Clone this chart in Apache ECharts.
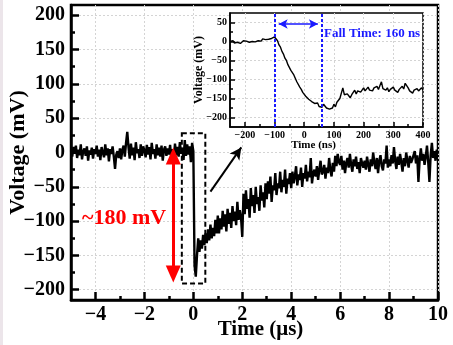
<!DOCTYPE html>
<html><head><meta charset="utf-8">
<script src="https://cdn.jsdelivr.net/npm/echarts@6/dist/echarts.min.js"></script>
<style>html,body{margin:0;padding:0;background:#fff}#c{width:453px;height:345px}</style>
</head><body><div id="c"></div>
<script>
// ---- main trace: sample start / step (µs) and voltages (mV)
const mainStart = -5, mainStep = 0.05;
const mainVolt = [
  3,-6,8,-2,10,-8,4,-4,12,-10,2,6,-5,9,-12,3,-3,7,-9,5,
  -2,10,-6,4,-11,8,0,-7,12,-4,6,-13,5,-2,9,-6,-24,-3,2,-8,
  6,-10,4,10,-6,14,30,8,-9,13,-4,7,-11,15,-1,5,-8,12,-5,9,
  3,-7,11,-3,8,-10,14,-2,5,-9,12,-4,7,-6,10,-12,4,9,-5,6,
  -3,11,-8,5,-10,13,-4,8,-6,15,-2,7,-11,18,-5,12,-3,9,-14,14,
  2,-165,-181,-150,-125,-145,-128,-140,-120,-135,-118,-132,-112,-128,-105,-125,-110,-122,-98,-118,
  -92,-118,-96,-112,-85,-108,-90,-115,-82,-104,-88,-110,-78,-100,-86,-106,-72,-98,-84,-95,
  -123,-60,-90,-55,-82,-68,-95,-52,-78,-62,-88,-50,-75,-65,-85,-48,-70,-58,-80,-45,
  -68,-42,-60,-35,-72,-48,-55,-30,-62,-45,-52,-28,-58,-40,-50,-25,-60,-38,-46,-30,
  -52,-28,-45,-35,-20,-48,-32,-40,-22,-50,-30,-38,-18,-42,-28,-36,-8,-45,-30,-25,
  -35,-20,-40,-25,-12,-32,-28,-18,-38,-22,-30,-8,-26,-35,-15,-28,-5,-20,-2,-14,
  -18,-5,-25,-12,-30,-15,-8,-22,-2,-18,-28,-10,-20,-6,-24,-14,-30,-8,-16,-22,
  -12,-25,-6,-18,-28,-10,-20,0,-15,-24,-8,-30,-12,-4,-20,-26,-10,-16,10,-22,
  -10,-20,-4,-16,8,-12,-24,-6,-18,-2,-14,-28,-8,-20,0,-12,-22,-5,-15,-10,
  -8,2,-16,-4,-43,-10,6,-12,-2,-18,-6,10,-14,-43,-4,14,-8,2,-12,4,
  -2
];
// ---- inset trace: sample start / step (ns) and voltages (mV)
const insetStart = -250, insetStep = 5;
const insetVolt = [
  0,-3,2,-4,1,-2,3,-5,0,2,-3,1,4,-2,3,0,5,-1,4,2,6,1,7,3,5,9,6,10,8,12,
  12,7,2,-9,-15,-26,-33,-44,-50,-61,-65,-76,-79,-88,-93,-106,-110,-120,-126,-134,-137,-144,-146,-152,-153,-158,-157,-163,-165,-162,-171,-166,-173,
  -165,-168,-175,-170,-178,-183,-175,-165,-172,-160,-158,-150,-155,-122,-140,
  -145,-138,-142,-148,-140,-135,-128,-138,-130,-126,-133,-128,-122,-130,-126,
  -120,-128,-124,-130,-122,-127,-118,-126,-116,-106,-124,-120,-128,-122,-132,
  -126,-130,-120,-128,-124,-134,-126,-130,-118,-125,-110,-114,-122,-130,-126,
  -136,-128,-132,-124,-130,-126,-122,-128
];
// ---- tick values
const mainXLabels = [-4,-2,0,2,4,6,8,10];
const mainXMinor  = [-3,-1,1,3,5,7,9];
const mainYLabels = [-200,-150,-100,-50,0,50,100,150,200];
const mainYMinor  = [-175,-125,-75,-25,25,75,125,175];
const insetXLabels = [-200,-100,0,100,200,300,400];
const insetXMinor  = [-150,-50,50,150,250,350];
const insetYLabels = [-200,-150,-100,-50,0,50];
const insetYMinor  = [-175,-125,-75,-25,25];
// ---- annotations (data units)
const fallStart = -100, fallEnd = 60, fallArrowY = 46;
const fallText = 'Fall Time: 160 ns';
const ampText = '~180 mV';
const ampArrowX = -0.82, ampTop = 6, ampBottom = -188;
const zoomBox = [[-0.47, 28], [0.49, -191]];
const pointerFrom = [0.70, -57], pointerTo = [2.06, 12.4];

const mainData = mainVolt.map((v, i) => [+(mainStart + i * mainStep).toFixed(2), v]);
const insetData = insetVolt.map((v, i) => [insetStart + i * insetStep, v]);

const FONT = '"Liberation Serif","Times New Roman",serif';
const fmt = v => (v < 0 ? '\u2212' + Math.abs(v) : String(v));
const lbl = (size, vals, margin) => ({ customValues: vals, formatter: fmt, fontFamily: FONT, fontWeight: 'bold', fontSize: size, color: '#000', margin: margin });
const grid0 = { left: 71, top: 5, width: 367, height: 295, outerBoundsMode: 'none', containLabel: false };
const gridI = { left: 230, top: 13, width: 193, height: 114, outerBoundsMode: 'none', containLabel: false };
const noLine = { show: false, onZero: false };

const chart = echarts.init(document.getElementById('c'), null, { renderer: 'canvas' });
chart.setOption({
  animation: false,
  backgroundColor: '#fff',
  grid: [
    Object.assign({ show: true, borderColor: '#000', borderWidth: 2.5, backgroundColor: 'transparent' }, grid0),
    Object.assign({ show: false }, grid0),
    Object.assign({ show: true, borderColor: '#000', borderWidth: 1.5, backgroundColor: '#fff', z: 10 }, gridI),
    Object.assign({ show: false, z: 11 }, gridI)
  ],
  xAxis: [
    { gridIndex: 0, type: 'value', min: -5, max: 10,
      axisLine: { show: true, onZero: false, lineStyle: { color: '#000', width: 2.5 } },
      axisTick: { show: true, inside: true, length: 8, customValues: mainXLabels, lineStyle: { color: '#000', width: 2.5 } },
      axisLabel: lbl(20, mainXLabels, 5),
      splitLine: { show: true, lineStyle: { color: '#d4d4d4', type: [2, 2], width: 1 } },
      name: 'Time (\u03bcs)', nameLocation: 'middle', nameGap: 19, nameMoveOverlap: false,
      nameTextStyle: { fontFamily: FONT, fontWeight: 'bold', fontSize: 21, color: '#000', padding: [0, 0, 0, 12] } },
    { gridIndex: 1, type: 'value', min: -5, max: 10,
      axisLine: noLine, axisLabel: { show: false }, splitLine: { show: false },
      axisTick: { show: true, inside: true, length: 4, customValues: mainXMinor, lineStyle: { color: '#000', width: 2.5 } } },
    { gridIndex: 2, type: 'value', min: -250, max: 400, z: 11,
      axisLine: { show: true, onZero: false, lineStyle: { color: '#000', width: 1.5 } },
      axisTick: { show: true, inside: true, length: 5, customValues: insetXLabels, lineStyle: { color: '#000', width: 1.5 } },
      axisLabel: lbl(10, insetXLabels, 3),
      splitLine: { show: true, lineStyle: { color: '#d4d4d4', type: [2, 2], width: 1 } },
      name: 'Time (ns)', nameLocation: 'middle', nameGap: 13, nameMoveOverlap: false,
      nameTextStyle: { fontFamily: FONT, fontWeight: 'bold', fontSize: 11, color: '#000', padding: [0, 26, 0, 0] } },
    { gridIndex: 3, type: 'value', min: -250, max: 400, z: 12,
      axisLine: noLine, axisLabel: { show: false }, splitLine: { show: false },
      axisTick: { show: true, inside: true, length: 3, customValues: insetXMinor, lineStyle: { color: '#000', width: 1.5 } } }
  ],
  yAxis: [
    { gridIndex: 0, type: 'value', min: -215, max: 215,
      axisLine: { show: true, onZero: false, lineStyle: { color: '#000', width: 2.5 } },
      axisTick: { show: true, inside: true, length: 8, customValues: mainYLabels, lineStyle: { color: '#000', width: 2.5 } },
      axisLabel: lbl(20, mainYLabels, 6),
      splitLine: { show: true, lineStyle: { color: '#d4d4d4', type: [2, 2], width: 1 } },
      name: 'Voltage (mV)', nameLocation: 'middle', nameGap: 42, nameRotate: 90, nameMoveOverlap: false,
      nameTextStyle: { fontFamily: FONT, fontWeight: 'bold', fontSize: 22, color: '#000' } },
    { gridIndex: 1, type: 'value', min: -215, max: 215,
      axisLine: noLine, axisLabel: { show: false }, splitLine: { show: false },
      axisTick: { show: true, inside: true, length: 4, customValues: mainYMinor, lineStyle: { color: '#000', width: 2.5 } } },
    { gridIndex: 2, type: 'value', min: -225, max: 75, z: 11,
      axisLine: { show: true, onZero: false, lineStyle: { color: '#000', width: 1.5 } },
      axisTick: { show: true, inside: true, length: 5, customValues: insetYLabels, lineStyle: { color: '#000', width: 1.5 } },
      axisLabel: lbl(10, insetYLabels, 3),
      splitLine: { show: true, lineStyle: { color: '#d4d4d4', type: [2, 2], width: 1 } },
      name: 'Voltage (mV)', nameLocation: 'middle', nameGap: 25, nameRotate: 90, nameMoveOverlap: false,
      nameTextStyle: { fontFamily: FONT, fontWeight: 'bold', fontSize: 12, color: '#000' } },
    { gridIndex: 3, type: 'value', min: -225, max: 75, z: 12,
      axisLine: noLine, axisLabel: { show: false }, splitLine: { show: false },
      axisTick: { show: true, inside: true, length: 3, customValues: insetYMinor, lineStyle: { color: '#000', width: 1.5 } } }
  ],
  series: [
    { type: 'line', xAxisIndex: 0, yAxisIndex: 0, data: mainData, showSymbol: false, z: 3,
      lineStyle: { color: '#000', width: 2.4 }, clip: true,
      markArea: { silent: true, z: 4,
        itemStyle: { color: 'rgba(0,0,0,0)', borderColor: '#000', borderWidth: 2, borderType: [5, 3] },
        data: [[{ coord: zoomBox[0] }, { coord: zoomBox[1] }]] },
      markLine: { silent: true, z: 5, label: { show: false }, symbol: ['none', 'none'],
        data: [
          [ { coord: [ampArrowX, ampTop - 11], symbol: 'triangle', symbolSize: [15, 17], lineStyle: { color: '#ff0000', width: 3, type: 'solid' } },
            { coord: [ampArrowX, ampBottom + 11], symbol: 'triangle', symbolSize: [15, 17] } ],
          [ { coord: pointerFrom, symbol: 'none', lineStyle: { color: '#000', width: 2, type: 'solid' } },
            { coord: [pointerTo[0] - 0.1, pointerTo[1] - 5], symbol: 'arrow', symbolSize: [9, 12] } ]
        ] } },
    { type: 'line', xAxisIndex: 2, yAxisIndex: 2, data: insetData, showSymbol: false, z: 13,
      lineStyle: { color: '#000', width: 1.4 },
      markLine: { silent: true, z: 14, label: { show: false }, symbol: ['none', 'none'],
        data: [
          { xAxis: fallStart, lineStyle: { color: '#1a1aff', width: 2, type: [3, 2] } },
          { xAxis: fallEnd, lineStyle: { color: '#1a1aff', width: 2, type: [3, 2] } },
          [ { coord: [fallStart + 14, fallArrowY], symbol: 'arrow', symbolSize: [7, 9], lineStyle: { color: '#1a1aff', width: 1.6, type: 'solid' } },
            { coord: [fallEnd - 14, fallArrowY], symbol: 'arrow', symbolSize: [7, 9] } ]
        ] } }
  ],
  graphic: [
    { type: 'rect', left: 0, top: 0, z: 100, shape: { width: 3, height: 345 }, style: { fill: '#ece5ea' } },
    { type: 'text', left: 324, top: 27, z: 100, style: { text: fallText, fill: '#1a1aff', font: 'bold 13px ' + FONT } },
    { type: 'text', left: 82, top: 207, z: 100, style: { text: ampText, fill: '#ff0000', font: 'bold 22px ' + FONT } }
  ]
});
</script></body></html>
